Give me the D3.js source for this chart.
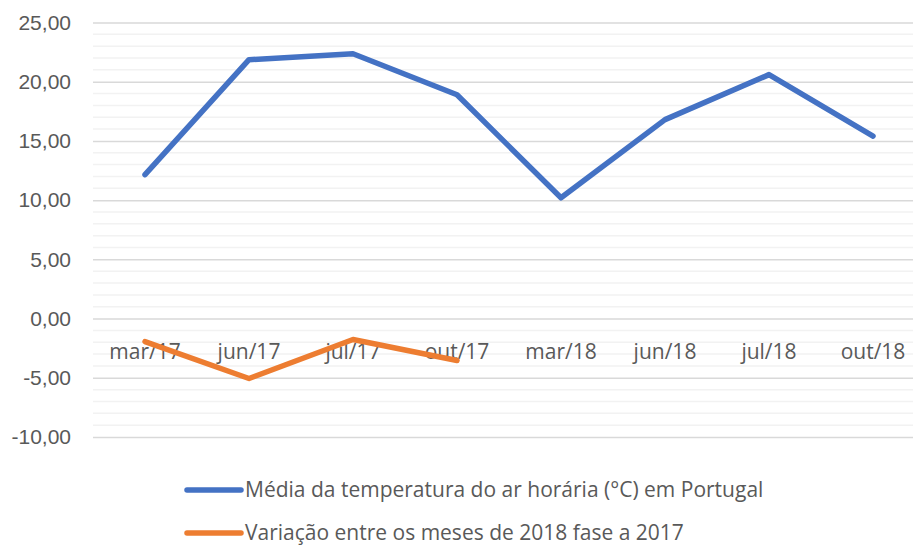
<!DOCTYPE html>
<html>
<head>
<meta charset="utf-8">
<script src="https://cdn.jsdelivr.net/npm/d3@7"></script>
<style>
  body { margin: 0; background: #fff; }
  svg { display: block; font-family: "Open Sans", Lato, sans-serif; }
</style>
</head>
<body>
<div id="chart"></div>
<script>
// categories and series
const MONTHS = ["mar/17", "jun/17", "jul/17", "out/17", "mar/18", "jun/18", "jul/18", "out/18"];
const TEMP = [12.15, 21.86, 22.36, 18.9, 10.2, 16.8, 20.6, 15.4];
const VARIATION = [-1.94, -5.06, -1.77, -3.54];
const Y_TICKS = [-10, -5, 0, 5, 10, 15, 20, 25];
const SERIES_NAMES = [
  "Média da temperatura do ar horária (°C) em Portugal",
  "Variação entre os meses de 2018 fase a 2017"
];
const COLORS = ["#4472c4", "#ed7d31"];

const W = 913, H = 545;
const svg = d3.select("#chart").append("svg").attr("width", W).attr("height", H);

const x = d3.scalePoint().domain(MONTHS).range([145, 873]);
const y = d3.scaleLinear().domain([-10, 25]).range([437, 22.5]);

// minor gridlines every 1
const minor = d3.range(-10, 26, 1).filter(v => v % 5 !== 0);
svg.append("g").selectAll("line").data(minor).enter().append("line")
  .attr("x1", 93).attr("x2", W).attr("y1", d => y(d)).attr("y2", d => y(d))
  .attr("stroke", "#f2f2f2").attr("stroke-width", 1.5);

// major gridlines + y labels
svg.append("g").attr("transform", "translate(93,0)")
  .call(d3.axisLeft(y).tickValues(Y_TICKS).tickSize(-(W - 93)).tickPadding(22)
    .tickFormat(d => d3.format(".2f")(d).replace(".", ",").replace("−", "-")))
  .call(ax => {
    ax.select(".domain").remove();
    ax.selectAll("line").attr("stroke", "#d9d9d9").attr("stroke-width", 1.5);
    ax.selectAll("text").style("font-size", "21px").style("fill", "#595959");
  });

// category labels sit just below the zero line
svg.append("g").selectAll("text").data(MONTHS).enter().append("text")
  .attr("x", d => x(d)).attr("y", y(0) + 40).attr("text-anchor", "middle")
  .style("font-size", "21px").style("fill", "#595959").text(d => d);

const line = d3.line().x(d => x(d.m)).y(d => y(d.v));
[TEMP, VARIATION].forEach((vals, i) => {
  const pts = vals.map((v, j) => ({ m: MONTHS[j], v }));
  svg.append("path").datum(pts).attr("d", line).attr("fill", "none")
    .attr("stroke", COLORS[i]).attr("stroke-width", 5.5)
    .attr("stroke-linejoin", "round").attr("stroke-linecap", "round");
});

// legend
SERIES_NAMES.forEach((name, i) => {
  const ly = 490 + i * 43;
  svg.append("line").attr("x1", 187).attr("x2", 241).attr("y1", ly).attr("y2", ly)
    .attr("stroke", COLORS[i]).attr("stroke-width", 5.5).attr("stroke-linecap", "round");
  svg.append("text").attr("x", 245).attr("y", ly + 7)
    .style("font-size", "21px").style("fill", "#595959").text(name);
});
</script>
</body>
</html>
